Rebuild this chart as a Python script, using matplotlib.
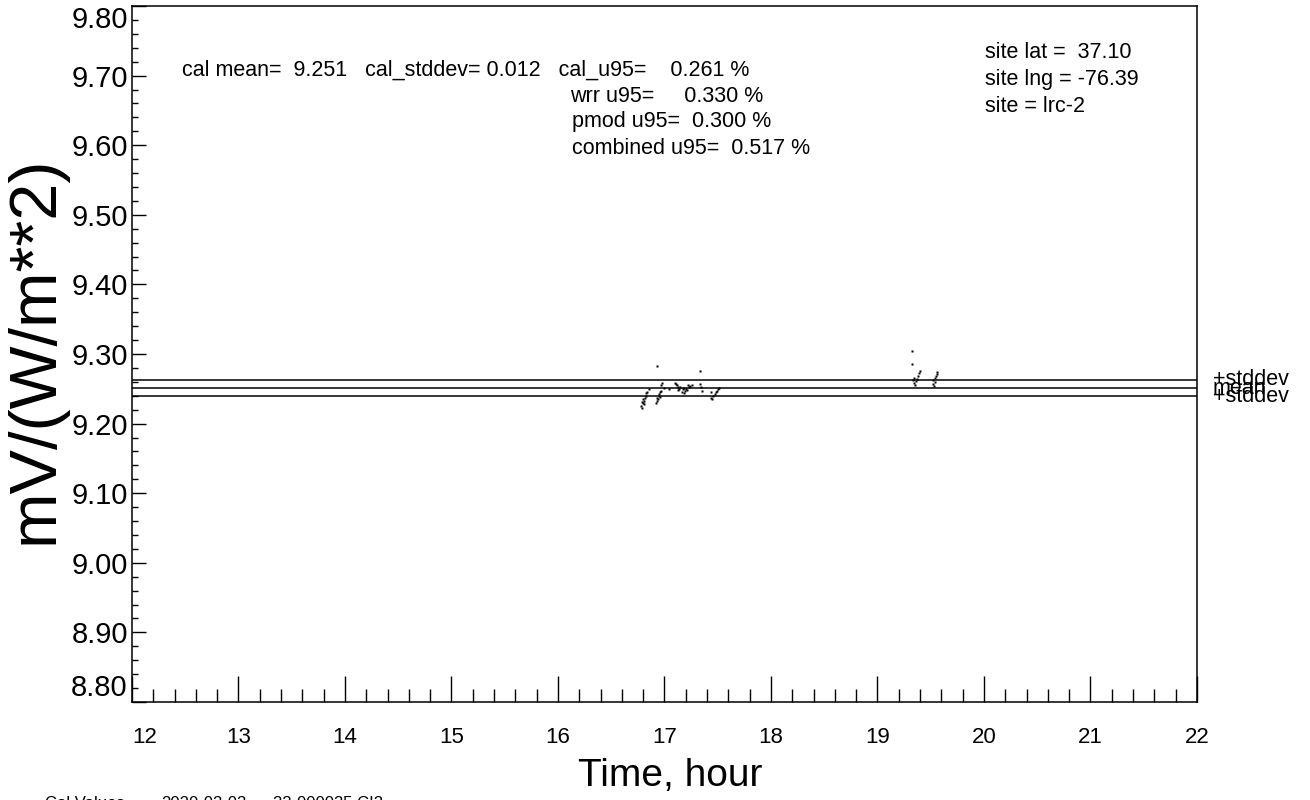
import numpy as np
import matplotlib
matplotlib.use("Agg")
import matplotlib.pyplot as plt

plt.rcParams['font.family'] = ['Liberation Sans', 'DejaVu Sans']

# calibration points (hour, mV/(W/m**2))
hours = [16.78, 16.79, 16.79, 16.80, 16.80, 16.81, 16.81, 16.82, 16.83, 16.83, 16.84, 16.85,
         16.92, 16.93, 16.93, 16.94, 16.95, 16.95, 16.96, 16.96, 16.97, 16.97, 16.98, 16.93,
         17.00, 17.04, 17.10, 17.11, 17.12, 17.13, 17.13, 17.14, 17.15, 17.16, 17.17, 17.18,
         17.18, 17.19, 17.20, 17.21, 17.22, 17.23, 17.24, 17.26, 17.33, 17.33, 17.34, 17.35,
         17.44, 17.45, 17.46, 17.47, 17.48, 17.49, 17.50, 17.51, 17.44,
         19.32, 19.32, 19.33, 19.34, 19.34, 19.35, 19.36, 19.37, 19.38, 19.39, 19.40,
         19.52, 19.52, 19.53, 19.54, 19.54, 19.55, 19.56, 19.56]
values = [9.226, 9.231, 9.222, 9.229, 9.235, 9.228, 9.233, 9.237, 9.240, 9.244, 9.246, 9.249,
          9.229, 9.233, 9.237, 9.235, 9.240, 9.242, 9.238, 9.245, 9.247, 9.255, 9.258, 9.283,
          9.251, 9.249, 9.259, 9.257, 9.255, 9.252, 9.248, 9.250, 9.253, 9.246, 9.249, 9.251,
          9.244, 9.247, 9.250, 9.248, 9.255, 9.252, 9.254, 9.255, 9.276, 9.257, 9.252, 9.247,
          9.237, 9.235, 9.240, 9.243, 9.245, 9.247, 9.249, 9.251, 9.245,
          9.305, 9.286, 9.262, 9.258, 9.266, 9.256, 9.261, 9.264, 9.268, 9.272, 9.275,
          9.257, 9.262, 9.254, 9.260, 9.265, 9.268, 9.271, 9.274]

cal_mean = 9.251
cal_stddev = 0.012
line_names = ["+stddev", "mean", "+stddev"]
line_values = [cal_mean + cal_stddev, cal_mean, cal_mean - cal_stddev]

stats_lines = ["cal mean=  9.251   cal_stddev= 0.012   cal_u95=    0.261 %",
               "wrr u95=     0.330 %",
               "pmod u95=  0.300 %",
               "combined u95=  0.517 %"]
site_lines = ["site lat =  37.10", "site lng = -76.39", "site = lrc-2"]
footer = ["Cal Values", "2020-03-03", "33-000035 CI3"]

W, H = 1310, 800
fig = plt.figure(figsize=(W / 100, H / 100), dpi=100)
ax = fig.add_axes([132 / W, 1 - 702 / H, (1197 - 132) / W, (702 - 6) / H])

ax.plot(hours, values, linestyle='none', marker='s', ms=1.8, color='black', mec='none')
for v in line_values:
    ax.axhline(v, color='black', lw=1.1)
for name, v in zip(line_names, line_values):
    ax.text(22.15, v, name, fontsize=15.5, va='center', ha='left', clip_on=False)

ax.set_xlim(12, 22)
ax.set_ylim(8.80, 9.80)
ax.set_xticks(np.arange(12, 23, 1))
ax.set_xticks(np.arange(12, 22.01, 0.2), minor=True)
ax.set_yticks(np.arange(8.80, 9.801, 0.1))
ax.set_yticks(np.arange(8.80, 9.801, 0.02), minor=True)
ax.set_xticklabels([str(h) for h in range(12, 23)], fontsize=16)
ax.set_yticklabels(['%.2f' % v for v in np.arange(8.80, 9.801, 0.1)], fontsize=21)
ax.tick_params(axis='x', which='major', direction='in', length=19, width=1, pad=18)
ax.tick_params(axis='x', which='minor', direction='in', length=9.5, width=1)
ax.tick_params(axis='y', which='major', direction='in', length=10, width=1, pad=3)
ax.tick_params(axis='y', which='minor', direction='in', length=4.5, width=1)
ylabs = ax.get_yticklabels()
ylabs[0].set_va('bottom')
ylabs[-1].set_va('top')
ax.get_xticklabels()[0].set_ha('left')
for s in ax.spines.values():
    s.set_linewidth(1.1)

stats_x = [182, 570, 572, 572]
for i, t in enumerate(stats_lines):
    fig.text(stats_x[i] / W, 1 - (70 + 26 * i) / H, t, fontsize=15.5, va='center')
for i, t in enumerate(site_lines):
    fig.text(985 / W, 1 - (52 + 27 * i) / H, t, fontsize=15.5, va='center')

fig.text(670 / W, 1 - 776 / H, "Time, hour", fontsize=28, ha='center', va='center')
fig.text(36 / W, 1 - 350 / H, "mV/(W/m**2)", fontsize=48, rotation=90,
         ha='center', va='center')
for t, x in zip(footer, [45, 161, 273]):
    fig.text(x / W, 1 - 796 / H, t, fontsize=12, va='top')

fig.savefig("out.png", dpi=100)
